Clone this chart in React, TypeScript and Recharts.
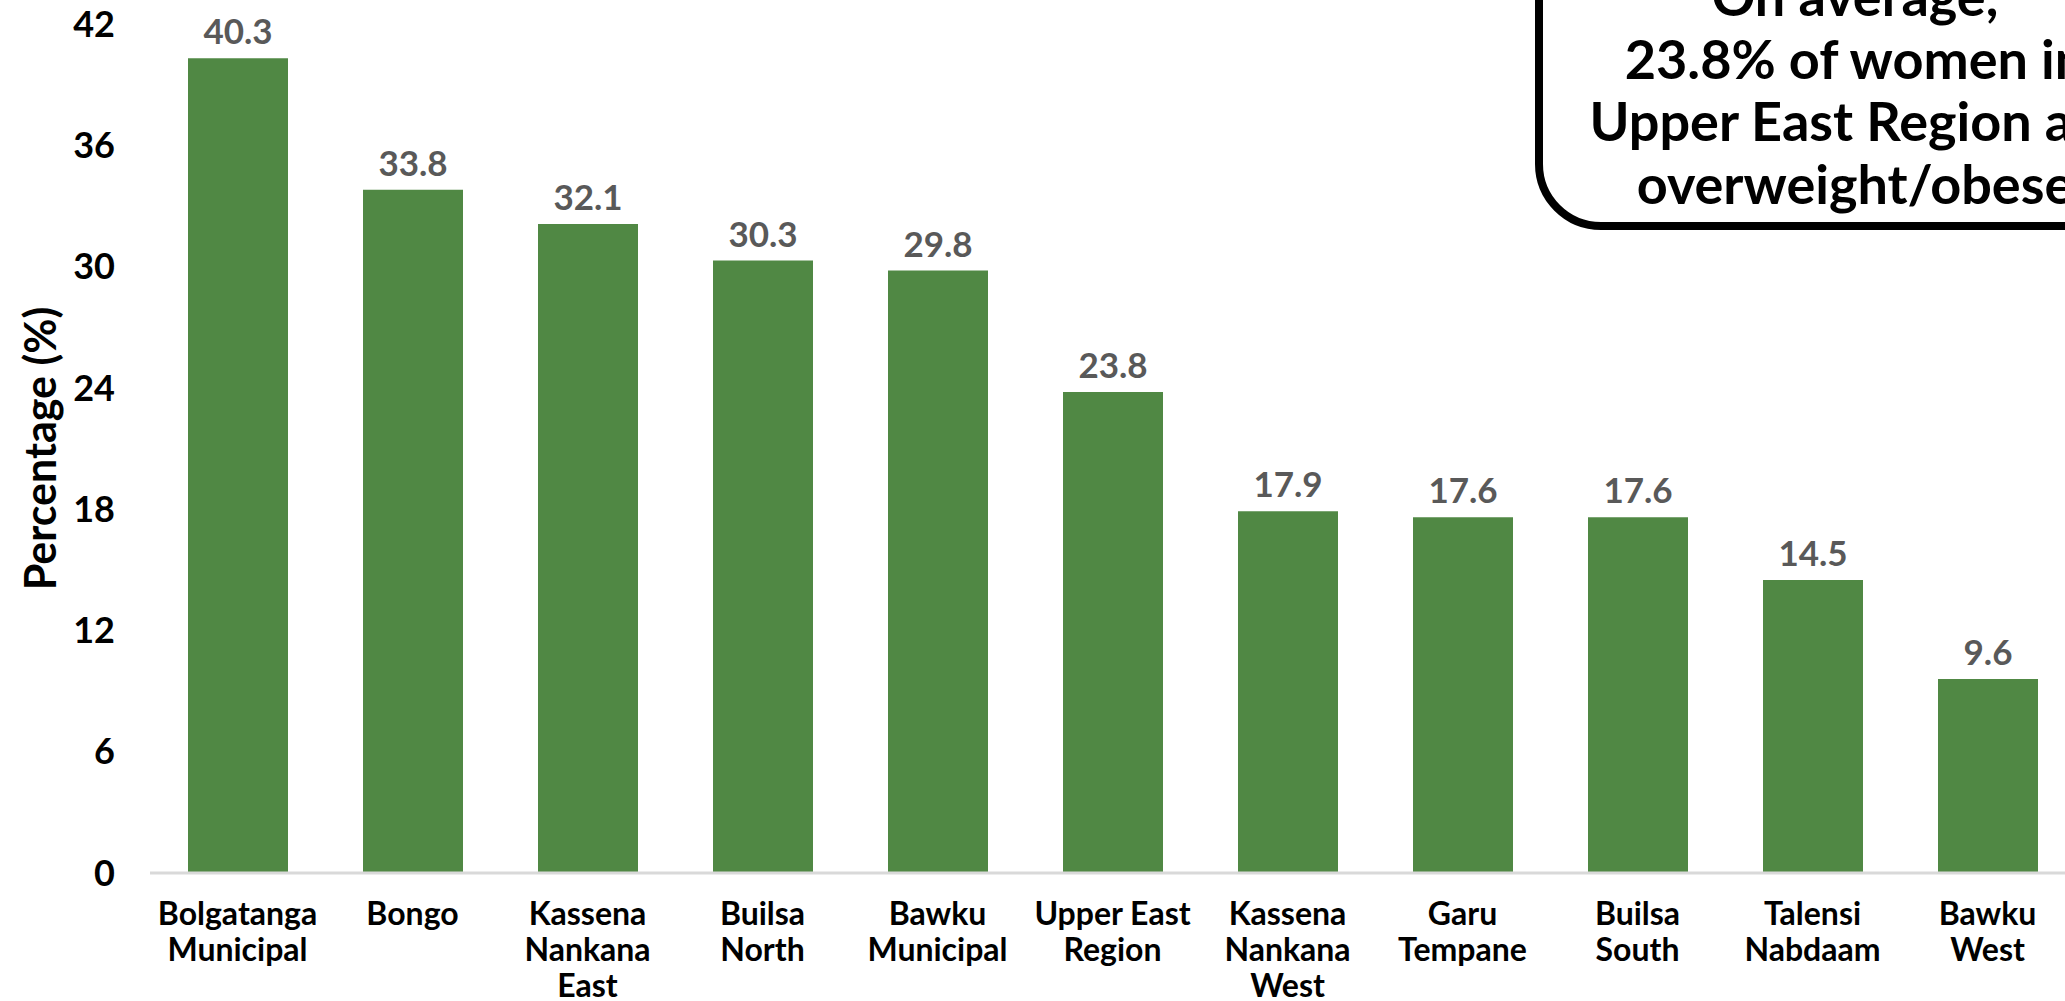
import { Bar, BarChart, LabelList, XAxis, YAxis } from "recharts";

const FONT = "Lato, 'Open Sans', sans-serif";

const DISTRICTS = [
  "Bolgatanga\nMunicipal",
  "Bongo",
  "Kassena\nNankana\nEast",
  "Builsa\nNorth",
  "Bawku\nMunicipal",
  "Upper East\nRegion",
  "Kassena\nNankana\nWest",
  "Garu\nTempane",
  "Builsa\nSouth",
  "Talensi\nNabdaam",
  "Bawku\nWest",
];
const PREVALENCE = [40.3, 33.8, 32.1, 30.3, 29.8, 23.8, 17.9, 17.6, 17.6, 14.5, 9.6];
const Y_TICKS = [0, 6, 12, 18, 24, 30, 36, 42];
const CALLOUT_LINES = [
  "On average,",
  "23.8% of women in",
  "Upper East Region are",
  "overweight/obese",
];

function DistrictTick({ x, y, payload }: any) {
  const lines = String(payload.value).split("\n");
  return (
    <text
      x={x}
      y={y}
      textAnchor="middle"
      fontSize={32}
      fontWeight={700}
      fill="#000"
      fontFamily={FONT}
    >
      {lines.map((line, i) => (
        <tspan key={i} x={x} dy={i === 0 ? 50 : 36}>
          {line}
        </tspan>
      ))}
    </text>
  );
}

function YTitle({ viewBox }: any) {
  const cx = 56;
  const cy = viewBox.y + viewBox.height / 2;
  return (
    <text
      x={cx}
      y={cy}
      transform={`rotate(-90 ${cx} ${cy})`}
      textAnchor="middle"
      fontSize={43}
      fontWeight={700}
      fill="#000"
      fontFamily={FONT}
    >
      Percentage (%)
    </text>
  );
}

export default function App() {
  const rows = DISTRICTS.map((d, i) => ({ district: d, value: PREVALENCE[i] }));

  return (
    <div
      style={{
        position: "fixed",
        left: 0,
        top: 0,
        width: 2065,
        height: 1001,
        overflow: "hidden",
        background: "#fff",
      }}
    >
      <BarChart
        width={2075}
        height={1001}
        data={rows}
        margin={{ top: 24, right: 0, bottom: 0, left: 0 }}
      >
        <XAxis
          dataKey="district"
          height={128}
          interval={0}
          tickLine={false}
          tickSize={0}
          axisLine={{ stroke: "#d9d9d9", strokeWidth: 3 }}
          tick={<DistrictTick />}
        />
        <YAxis
          domain={[0, 42]}
          ticks={Y_TICKS}
          width={150}
          axisLine={false}
          tickLine={false}
          tickSize={0}
          tickMargin={35}
          tick={{ fontSize: 36, fontWeight: 700, fill: "#000", fontFamily: FONT }}
          label={<YTitle />}
        />
        <Bar dataKey="value" fill="#508844" barSize={100} isAnimationActive={false}>
          <LabelList
            dataKey="value"
            position="top"
            offset={14}
            fill="#595959"
            fontSize={35}
            fontWeight={700}
            fontFamily={FONT}
          />
        </Bar>
      </BarChart>

      {/* callout box, cut off at top and right like the source */}
      <svg
        width={2065}
        height={1001}
        style={{ position: "absolute", left: 0, top: 0, pointerEvents: "none" }}
      >
        <rect
          x={1539}
          y={-100}
          width={630}
          height={326}
          rx={62}
          fill="#fff"
          stroke="#000"
          strokeWidth={8}
        />
        {CALLOUT_LINES.map((line, i) => (
          <text
            key={line}
            x={1855}
            y={16 + i * 62.5}
            textAnchor="middle"
            fontSize={54}
            fontWeight={700}
            fill="#000"
            fontFamily={FONT}
          >
            {line}
          </text>
        ))}
      </svg>
    </div>
  );
}
